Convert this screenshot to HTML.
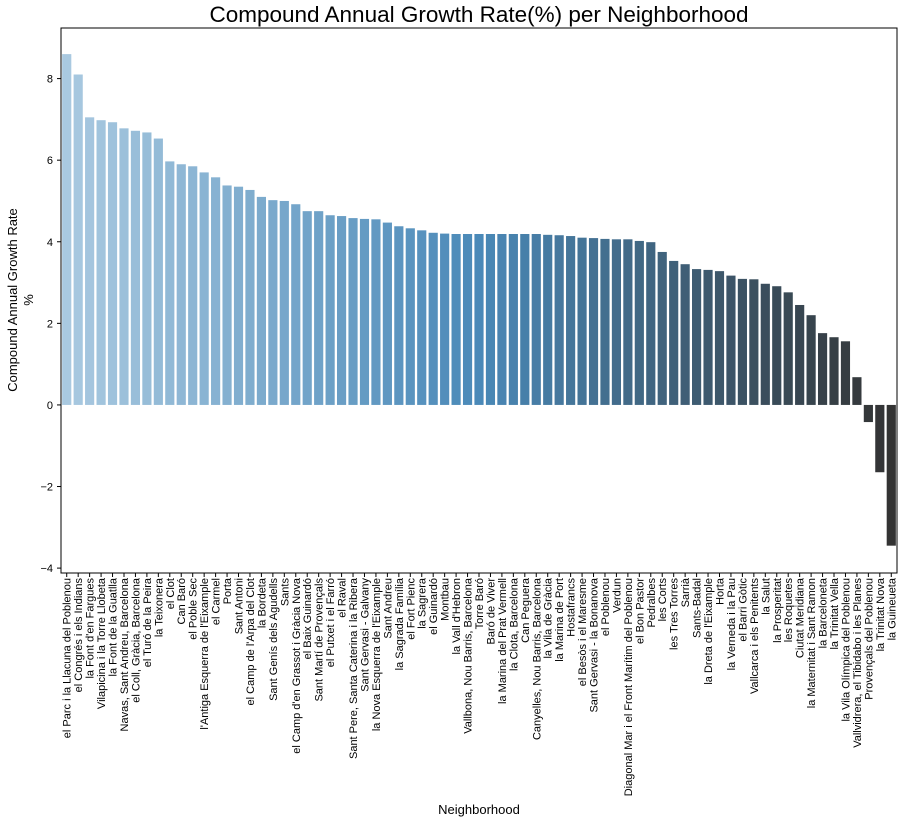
<!DOCTYPE html>
<html><head><meta charset="utf-8"><style>
body{margin:0;background:#fff;font-family:"Liberation Sans",sans-serif}
svg text{font-family:"Liberation Sans",sans-serif}
</style></head><body>
<svg id="chart" width="905" height="824" xmlns="http://www.w3.org/2000/svg"></svg>
<script>
const categories=["el Parc i la Llacuna del Poblenou","el Congrés i els Indians","la Font d'en Fargues","Vilapicina i la Torre Llobeta","la Font de la Guatlla","Navas, Sant Andreu, Barcelona","el Coll, Gràcia, Barcelona","el Turó de la Peira","la Teixonera","el Clot","Can Baró","el Poble Sec","l'Antiga Esquerra de l'Eixample","el Carmel","Porta","Sant Antoni","el Camp de l'Arpa del Clot","la Bordeta","Sant Genís dels Agudells","Sants","el Camp d'en Grassot i Gràcia Nova","el Baix Guinardó","Sant Martí de Provençals","el Putxet i el Farró","el Raval","Sant Pere, Santa Caterina i la Ribera","Sant Gervasi - Galvany","la Nova Esquerra de l'Eixample","Sant Andreu","la Sagrada Família","el Fort Pienc","la Sagrera","el Guinardó","Montbau","la Vall d'Hebron","Vallbona, Nou Barris, Barcelona","Torre Baró","Baró de Viver","la Marina del Prat Vermell","la Clota, Barcelona","Can Peguera","Canyelles, Nou Barris, Barcelona","la Vila de Gràcia","la Marina de Port","Hostafrancs","el Besòs i el Maresme","Sant Gervasi - la Bonanova","el Poblenou","Verdun","Diagonal Mar i el Front Marítim del Poblenou","el Bon Pastor","Pedralbes","les Corts","les Tres Torres","Sarrià","Sants-Badal","la Dreta de l'Eixample","Horta","la Verneda i la Pau","el Barri Gòtic","Vallcarca i els Penitents","la Salut","la Prosperitat","les Roquetes","Ciutat Meridiana","la Maternitat i Sant Ramon","la Barceloneta","la Trinitat Vella","la Vila Olímpica del Poblenou","Vallvidrera, el Tibidabo i les Planes","Provençals del Poblenou","la Trinitat Nova","la Guineueta"];
const values=[8.6,8.1,7.05,6.98,6.93,6.78,6.72,6.68,6.53,5.97,5.9,5.85,5.7,5.58,5.38,5.35,5.27,5.1,5.02,5.0,4.92,4.75,4.75,4.65,4.63,4.58,4.56,4.55,4.47,4.38,4.33,4.28,4.22,4.2,4.19,4.19,4.19,4.19,4.19,4.19,4.19,4.19,4.17,4.16,4.14,4.1,4.09,4.07,4.06,4.06,4.02,3.99,3.75,3.53,3.45,3.33,3.31,3.28,3.17,3.09,3.08,2.97,2.91,2.76,2.45,2.2,1.76,1.66,1.56,0.68,-0.42,-1.65,-3.45];
const yTicks=[-4,-2,0,2,4,6,8];
const NS="http://www.w3.org/2000/svg";
const svg=document.getElementById('chart');
const L=61,R=897,T=28,B=573,yMax=9.24,yMin=-4.12;
const y=v=>T+(yMax-v)/(yMax-yMin)*(B-T);
const bw=(R-L)/categories.length;
const x=i=>L+i*bw;
function mk(tag,attrs,txt){const e=document.createElementNS(NS,tag);for(const k in attrs)e.setAttribute(k,attrs[k]);if(txt!==undefined)e.textContent=txt;svg.appendChild(e);return e;}
function lerp(a,b,t){return a.map((v,i)=>Math.round(v+(b[i]-v)*t));}
const c0=[169,201,224],c1=[74,137,184],c2=[51,51,51];
function col(i){const t=i/(categories.length-1);const c=t<0.5?lerp(c0,c1,t*2):lerp(c1,c2,(t-0.5)*2);return `rgb(${c})`;}
categories.forEach((c,i)=>{
  const v=values[i];const y0=y(0),y1=y(v);
  const r=mk('rect',{x:x(i)+bw*0.1,y:Math.min(y0,y1),width:bw*0.8,height:Math.abs(y1-y0),fill:col(i)});
  
  
  const cx=x(i)+bw/2+4;
  const t=mk('text',{x:cx,y:578,'font-size':11,'text-anchor':'end',transform:`rotate(-90 ${cx} 578)`,fill:'#000'},c);
  
  
  mk('line',{x1:x(i)+bw/2,x2:x(i)+bw/2,y1:B,y2:B+4,stroke:'#000'});
});
yTicks.forEach(v=>{
  mk('line',{x1:L-4,x2:L,y1:y(v),y2:y(v),stroke:'#000'});
  const t=mk('text',{x:L-8,y:y(v)+4,'font-size':11,'text-anchor':'end'},String(v).replace('-','−'));
  
  
});
const fr=mk('rect',{x:L,y:T,width:R-L,height:B-T,fill:'none',stroke:'#000','stroke-width':1});


const tt=mk('text',{x:479,y:22,'font-size':22.5,'text-anchor':'middle'},'Compound Annual Growth Rate(%) per Neighborhood');


const xl=mk('text',{x:479,y:814,'font-size':13,'text-anchor':'middle'},'Neighborhood');


const yl=mk('text',{x:17,y:300,'font-size':13,'text-anchor':'middle',transform:'rotate(-90 17 300)'},'Compound Annual Growth Rate');


const yl2=mk('text',{x:33,y:300,'font-size':13,'text-anchor':'middle',transform:'rotate(-90 33 300)'},'%');


</script>
</body></html>
